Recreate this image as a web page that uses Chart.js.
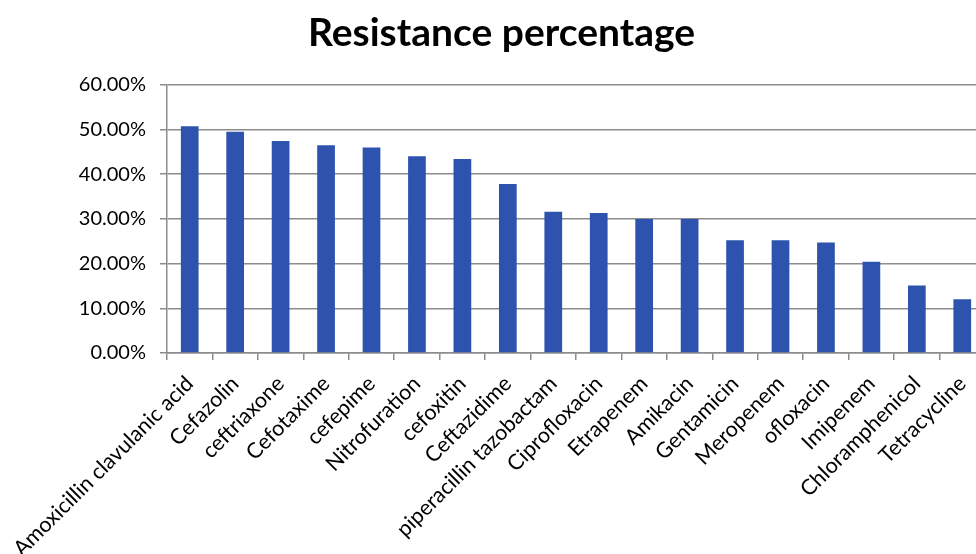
<!DOCTYPE html>
<html>
<head>
<meta charset="utf-8">
<script src="https://cdn.jsdelivr.net/npm/chart.js@4"></script>
<style>
  html, body { margin: 0; padding: 0; background: #fff; overflow: hidden; }
  #wrap { width: 1004px; height: 554px; position: relative; }
</style>
</head>
<body>
<div id="wrap"><canvas id="chart"></canvas></div>
<script>
const antibiotics = [
  "Amoxicillin clavulanic acid", "Cefazolin", "ceftriaxone", "Cefotaxime", "cefepime",
  "Nitrofuration", "cefoxitin", "Ceftazidime", "piperacillin tazobactam", "Ciprofloxacin",
  "Etrapenem", "Amikacin", "Gentamicin", "Meropenem", "ofloxacin", "Imipenem",
  "Chloramphenicol", "Tetracycline"
];
const resistance = [
  50.7, 49.5, 47.4, 46.5, 46.0, 44.0, 43.4, 37.8, 31.6, 31.3,
  30.0, 30.0, 25.2, 25.2, 24.7, 20.4, 15.1, 12.0
];
const yTicks = [0, 10, 20, 30, 40, 50, 60];

const axisGray = "#8c8c8c";

const ctx = document.getElementById("chart").getContext("2d");
new Chart(ctx, {
  type: "bar",
  data: {
    labels: antibiotics,
    datasets: [{
      label: "Resistance percentage",
      data: resistance,
      backgroundColor: "#2e53ae",
      borderWidth: 0,
      categoryPercentage: 1,
      barPercentage: 0.39
    }]
  },
  options: {
    responsive: true,
    maintainAspectRatio: false,
    animation: false,
    // equal side padding keeps the title centred like the original (wider, cropped) chart
    layout: { padding: { left: 18, right: 19, top: 0, bottom: 0 } },
    plugins: {
      legend: { display: false },
      tooltip: { enabled: false },
      title: {
        display: true,
        text: "Resistance percentage",
        color: "#000",
        font: { family: "Lato", size: 39, weight: "bold" },
        padding: { top: 10, bottom: 28 }
      }
    },
    scales: {
      x: {
        offset: true,
        grid: { offset: true, drawOnChartArea: false, drawTicks: true, tickLength: 7, color: axisGray, lineWidth: 1.5 },
        border: { color: axisGray, width: 1.5 },
        ticks: {
          color: "#000",
          font: { family: "Lato", size: 21.5 },
          minRotation: 45,
          maxRotation: 45,
          autoSkip: false,
          padding: 11
        },
        afterFit: (scale) => { scale.height = 201; }
      },
      y: {
        min: 0,
        max: 60,
        afterBuildTicks: (scale) => { scale.ticks = yTicks.map(v => ({ value: v })); },
        grid: { color: axisGray, lineWidth: 1.5, tickLength: 7 },
        border: { color: axisGray, width: 1.5 },
        ticks: {
          color: "#000",
          font: { family: "Lato", size: 20 },
          padding: 14,
          callback: (v) => v.toFixed(2) + "%"
        },
        afterFit: (scale) => { scale.width = 149; }
      }
    }
  }
});
</script>
</body>
</html>
